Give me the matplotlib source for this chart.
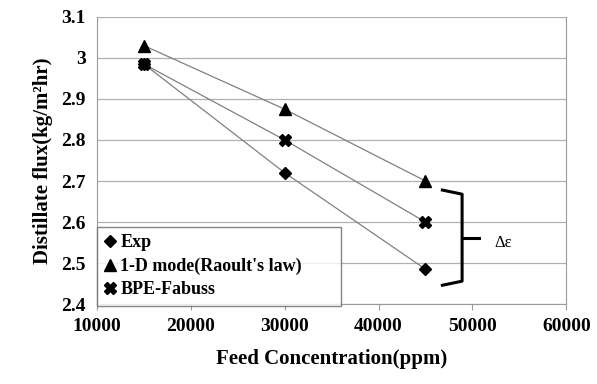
import matplotlib
matplotlib.use('Agg')
import matplotlib.pyplot as plt

feed = [15000, 30000, 45000]
exp = [2.985, 2.72, 2.485]
raoult = [3.03, 2.875, 2.70]
bpe = [2.985, 2.80, 2.60]

plt.rcParams['font.family'] = 'Liberation Serif'
plt.rcParams['font.weight'] = 'bold'

fig = plt.figure(figsize=(5.97, 3.84), dpi=100)
ax = fig.add_axes([0.1625, 0.208, 0.786, 0.748])

line_c = '#808080'
ax.plot(feed, exp, '-', color=line_c, lw=0.9, marker='D', ms=6, mfc='black', mec='black', label='Exp', zorder=3)
ax.plot(feed, raoult, '-', color=line_c, lw=0.9, marker='^', ms=8, mfc='black', mec='black', label="1-D mode(Raoult's law)", zorder=3)
ax.plot(feed, bpe, '-', color=line_c, lw=0.9, marker='X', ms=8.5, mfc='black', mec='black', label='BPE-Fabuss', zorder=3)

ax.set_xlim(10000, 60000)
ax.set_ylim(2.4, 3.1)
ax.set_xticks(range(10000, 60001, 10000))
ax.set_yticks([2.4, 2.5, 2.6, 2.7, 2.8, 2.9, 3.0, 3.1])
ax.set_yticklabels(['2.4', '2.5', '2.6', '2.7', '2.8', '2.9', '3', '3.1'])
ax.yaxis.grid(True, color='#b0b0b0', lw=0.9)
ax.set_axisbelow(True)
for s in ['left', 'right', 'bottom', 'top']:
    ax.spines[s].set_color('#999999')
ax.spines['top'].set_visible(False)
ax.tick_params(axis='y', length=0, labelsize=14, pad=8)
ax.tick_params(axis='x', length=4, color='#999999', labelsize=14, pad=6)

ax.set_xlabel('Feed Concentration(ppm)', fontsize=15, fontweight='bold', labelpad=10)
ax.set_ylabel('Distillate flux(kg/m\u00b2hr)', fontsize=15, fontweight='bold', labelpad=6)

leg = ax.legend(loc='lower left', bbox_to_anchor=(0.0, -0.005, 0.52, 0.29), mode='expand',
                frameon=True, fancybox=False, handlelength=0.6, handletextpad=0.3,
                borderaxespad=0, fontsize=13, labelspacing=0.35)
leg.get_frame().set_edgecolor('#666666')
leg.get_frame().set_linewidth(1.0)
for h in leg.legend_handles:
    h.set_linestyle('none')

# bracket marking the spread
bx0, bx1, bx2 = 46800, 48900, 50700
by0, by1, bym = 2.678, 2.446, 2.561
ax.plot([bx0, bx1, bx1, bx0], [by0, by0 - 0.01, by1 + 0.01, by1], color='black', lw=2.2, clip_on=False)
ax.plot([bx1, bx2], [bym, bym], color='black', lw=2.2, clip_on=False)
ax.text(52300, 2.55, '\u0394\u03b5', fontsize=12, fontweight='normal', va='center')

fig.savefig('out.png', dpi=100)
